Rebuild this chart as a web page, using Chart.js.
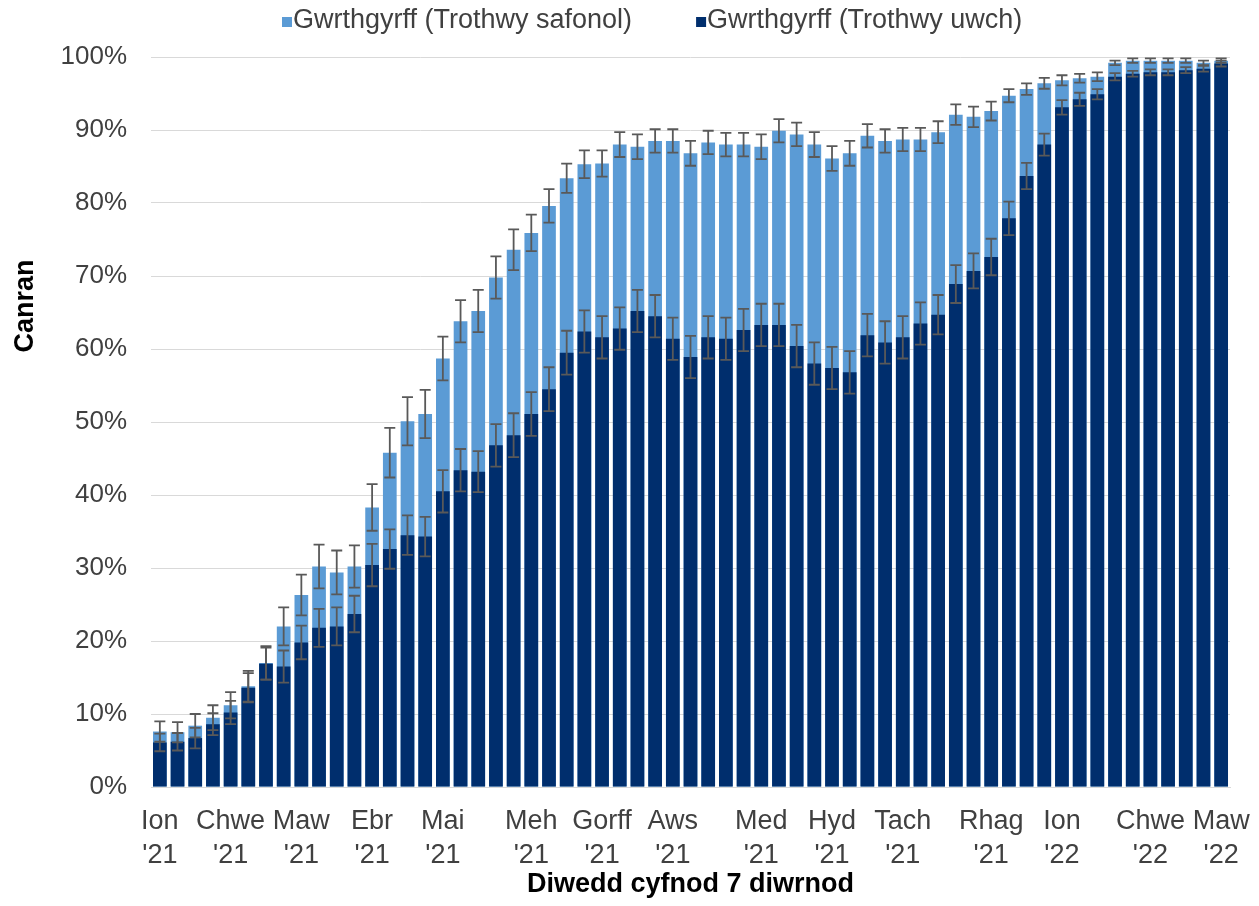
<!DOCTYPE html>
<html><head><meta charset="utf-8">
<script src="https://cdn.jsdelivr.net/npm/chart.js@4.4.0/dist/chart.umd.min.js"></script>
<style>
html,body{margin:0;padding:0;background:#fff;overflow:hidden}
#wrap{position:relative;width:1259px;height:906px}
</style></head><body>
<div id="wrap"><canvas id="chart" width="1259" height="906"></canvas></div>
<script>
const seriesNames = ["Gwrthgyrff (Trothwy safonol)", "Gwrthgyrff (Trothwy uwch)"];

const standardValues = [7.6, 7.5, 8.4, 9.5, 11.2, 13.8, 17.0, 22.0, 26.3, 30.2,
  29.4, 30.2, 38.3, 45.8, 50.1, 51.1, 58.7, 63.8, 65.2, 69.8,
  73.6, 75.9, 79.6, 83.4, 85.3, 85.4, 88.0, 87.7, 88.5, 88.5,
  86.8, 88.3, 88.0, 88.0, 87.7, 89.9, 89.4, 88.0, 86.1, 86.8,
  89.2, 88.5, 88.7, 88.7, 89.7, 92.1, 91.8, 92.6, 94.7, 95.6,
  96.4, 96.8, 97.1, 97.3, 99.2, 99.5, 99.5, 99.5, 99.5, 99.2, 99.5];
const standardErrors = [1.4, 1.4, 1.6, 1.7, 1.8, 2.1, 2.3, 2.6, 2.8, 3.0,
  3.0, 2.9, 3.2, 3.4, 3.3, 3.3, 3.0, 2.9, 2.9, 2.9,
  2.8, 2.5, 2.3, 2.0, 1.9, 1.8, 1.7, 1.7, 1.6, 1.6,
  1.7, 1.6, 1.6, 1.6, 1.7, 1.6, 1.6, 1.7, 1.7, 1.7,
  1.6, 1.6, 1.6, 1.6, 1.5, 1.4, 1.4, 1.3, 0.9, 0.8,
  0.75, 0.7, 0.6, 0.6, 0.3, 0.3, 0.3, 0.3, 0.3, 0.3, 0.3];
const highValues = [6.1, 6.2, 6.7, 8.6, 10.2, 13.6, 16.9, 16.5, 19.8, 21.8,
  22.0, 23.7, 30.4, 32.6, 34.5, 34.3, 40.5, 43.4, 43.2, 46.8,
  48.2, 51.1, 54.5, 59.5, 62.4, 61.6, 62.8, 65.2, 64.5, 61.4,
  58.9, 61.6, 61.4, 62.6, 63.3, 63.3, 60.4, 58.0, 57.4, 56.8,
  61.9, 60.9, 61.6, 63.5, 64.7, 68.9, 70.7, 72.6, 77.9, 83.7,
  88.0, 93.1, 94.2, 94.9, 97.3, 97.7, 97.9, 97.9, 98.2, 98.4, 99.1];
const highErrors = [1.2, 1.2, 1.4, 1.5, 1.6, 2.0, 2.2, 2.2, 2.3, 2.6,
  2.6, 2.5, 2.9, 2.7, 2.7, 2.7, 2.9, 2.9, 2.8, 2.9,
  3.0, 3.0, 3.0, 3.0, 2.9, 2.9, 2.9, 2.9, 2.9, 2.9,
  2.9, 2.9, 2.9, 2.9, 2.9, 2.9, 2.9, 2.9, 2.9, 2.9,
  2.9, 2.9, 2.9, 2.9, 2.7, 2.6, 2.4, 2.5, 2.3, 1.8,
  1.5, 1.0, 0.9, 0.7, 0.5, 0.4, 0.4, 0.4, 0.4, 0.4, 0.4];

const tickIndices = [0, 4, 8, 12, 16, 21, 25, 29, 34, 38, 42, 47, 51, 56, 60];
const tickMonths = ["Ion", "Chwe", "Maw", "Ebr", "Mai", "Meh", "Gorff", "Aws", "Med", "Hyd", "Tach", "Rhag", "Ion", "Chwe", "Maw"];
const tickYears = ["'21", "'21", "'21", "'21", "'21", "'21", "'21", "'21", "'21", "'21", "'21", "'21", "'22", "'22", "'22"];

const yAxisTitle = "Canran";
const xAxisTitle = "Diwedd cyfnod 7 diwrnod";

const categories = standardValues.map((_, i) => {
  const j = tickIndices.indexOf(i);
  return j >= 0 ? [tickMonths[j], tickYears[j]] : "";
});

const FONT = "'Liberation Sans', Arial, Helvetica, sans-serif";
const LIGHT = "#5B9BD5";
const DARK = "#002E6D";
const TEXT = "#404040";
Chart.defaults.font.family = FONT;

const errorBars = {
  id: "errorBars",
  afterDatasetsDraw(chart) {
    const ctx = chart.ctx, ys = chart.scales.y;
    ctx.save();
    ctx.strokeStyle = "#595959";
    ctx.lineWidth = 1.8;
    chart.data.datasets.forEach((ds, di) => {
      const meta = chart.getDatasetMeta(di);
      meta.data.forEach((bar, i) => {
        const v = ds.data[i], e = ds.errors[i];
        const x = bar.x;
        const yt = ys.getPixelForValue(v + e), yb = ys.getPixelForValue(v - e);
        ctx.beginPath();
        ctx.moveTo(x, yt); ctx.lineTo(x, yb);
        ctx.moveTo(x - 5.5, yt); ctx.lineTo(x + 5.5, yt);
        ctx.moveTo(x - 5.5, yb); ctx.lineTo(x + 5.5, yb);
        ctx.stroke();
      });
    });
    ctx.restore();
  }
};

const customLegend = {
  id: "customLegend",
  afterDraw(chart) {
    const ctx = chart.ctx;
    ctx.save();
    ctx.font = "27px " + FONT;
    ctx.textBaseline = "middle";
    const box = 10, gapText = 1, gapItems = 64, cy = 21;
    const items = chart.data.datasets.map(d => ({ text: d.label, color: d.backgroundColor, w: ctx.measureText(d.label).width }));
    let x = 282;
    items.forEach(it => {
      ctx.fillStyle = it.color;
      ctx.fillRect(x, cy - box / 2 + 1, box, box);
      x += box + gapText;
      ctx.fillStyle = TEXT;
      ctx.fillText(it.text, x, cy);
      x += it.w + gapItems;
    });
    // y axis title
    ctx.font = "bold 27px " + FONT;
    ctx.fillStyle = "#000";
    ctx.textAlign = "center";
    ctx.textBaseline = "alphabetic";
    ctx.translate(33, 306);
    ctx.rotate(-Math.PI / 2);
    ctx.fillText(yAxisTitle, 0, 0);
    ctx.restore();
  }
};

new Chart(document.getElementById("chart"), {
  type: "bar",
  data: {
    labels: categories,
    datasets: [
      { label: seriesNames[0], data: standardValues, errors: standardErrors, backgroundColor: LIGHT, order: 2,
        barPercentage: 0.775, categoryPercentage: 1.0 },
      { label: seriesNames[1], data: highValues, errors: highErrors, backgroundColor: DARK, order: 1,
        barPercentage: 0.775, categoryPercentage: 1.0 }
    ]
  },
  options: {
    responsive: false,
    animation: false,
    layout: { padding: { top: 57, right: 29, bottom: 0, left: 0 } },
    plugins: { legend: { display: false }, tooltip: { enabled: false } },
    scales: {
      x: {
        stacked: true,
        offset: true,
        grid: { display: false, drawTicks: false },
        border: { display: true, color: "#D9D9D9", width: 1 },
        ticks: { autoSkip: false, maxRotation: 0, minRotation: 0, color: TEXT, padding: 18,
          font: { size: 27, lineHeight: 1.26 } },
        title: { display: true, text: xAxisTitle, color: "#000", font: { size: 27, weight: "bold" },
          padding: { top: 0, bottom: 5 } },
        afterFit(s) { s.height = 119; s.paddingLeft = 0; s.paddingRight = 0; }
      },
      y: {
        stacked: false,
        min: 0, max: 100,
        ticks: { stepSize: 10, callback: v => v + "%", color: TEXT, padding: 24, font: { size: 26 } },
        grid: { color: "#D9D9D9", drawTicks: false },
        border: { display: false },
        afterFit(s) { s.width = 151; }
      }
    }
  },
  plugins: [errorBars, customLegend]
});
</script>
</body></html>
